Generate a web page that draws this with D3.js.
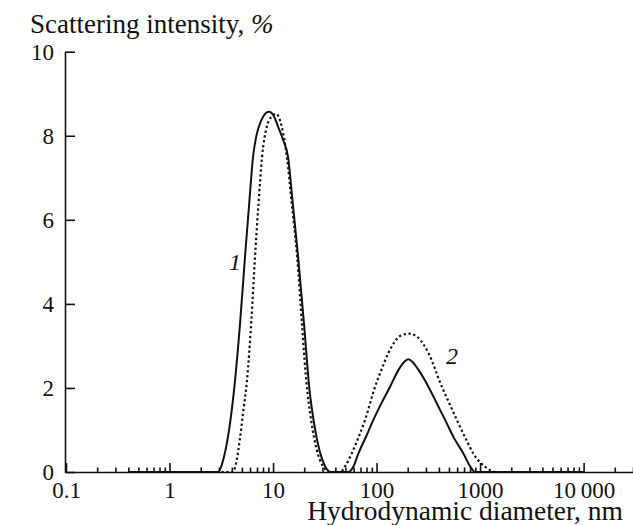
<!DOCTYPE html>
<html>
<head>
<meta charset="utf-8">
<script src="https://cdn.jsdelivr.net/npm/d3@7"></script>
<style>
	body { margin: 0; background: #fff; }
	svg { display: block; }
	text { font-family: "Liberation Serif", "Times New Roman", serif; fill: #111; }
</style>
</head>
<body>
<div id="vis"></div>
<script>
var width = 633,
	height = 525;

// curve 1 (solid): hydrodynamic diameter, nm  /  scattering intensity, %
var solidD = [0.4, 1, 2.94, 3.31, 3.76, 4.2, 4.79, 5.36, 5.89, 6.41, 6.84, 7.21, 8.05, 9.14, 10.23, 11.25, 12.59,
	13.96, 15.49, 17.46, 19.95, 22.4, 25.12, 28.18, 31.62, 36.31,
	53.5, 60.26, 66.7, 79.43, 93.1, 112.2, 135, 163, 182, 203, 223.9, 254, 317, 380.2, 459, 562.3, 690, 794.3, 895, 10000];
var solidI = [0, 0, 0, 0.3, 1.0, 1.95, 3.5, 5.12, 6.4, 7.5, 7.95, 8.18, 8.46, 8.57, 8.46, 8.2, 7.88,
	7.5, 6.4, 5.12, 3.5, 2.0, 1.1, 0.5, 0.15, 0,
	0, 0.15, 0.44, 0.85, 1.24, 1.65, 2.03, 2.43, 2.6, 2.68, 2.61, 2.43, 2.03, 1.64, 1.24, 0.8, 0.44, 0.15, 0, 0];

// curve 2 (dotted)
var dotD = [0.4, 1, 4.1, 4.47, 4.79, 5.19, 5.61, 6.17, 6.7, 7.24, 7.83, 8.67, 9.55, 10.7, 12.13,
	13.6, 15.14, 17.1, 19.05, 20.89, 23.44, 26.3, 30.2, 35.48,
	44.4, 50.12, 57.5, 67.61, 77.4, 96.8, 112.2, 130, 147.9, 169.8, 207, 251.2, 281.8, 317, 427, 501.2, 596, 724.4, 861, 1122, 1449, 10000];
var dotI = [0, 0, 0, 0.3, 0.8, 1.5, 2.19, 3.6, 5.12, 6.4, 7.5, 8.2, 8.44, 8.52, 8.22,
	7.5, 6.4, 5.12, 3.5, 2.2, 1.2, 0.55, 0.15, 0,
	0, 0.15, 0.44, 0.85, 1.24, 2.03, 2.45, 2.83, 3.08, 3.24, 3.29, 3.2, 3.05, 2.83, 2.03, 1.65, 1.24, 0.8, 0.44, 0.12, 0, 0];

var xMajor = [0.1, 1, 10, 100, 1000, 10000];
var xLabels = ["0.1", "1", "10", "100", "1000", "10\u2009000"];
var yTicks = [0, 2, 4, 6, 8, 10];

var x = d3.scaleLog()
		.domain([0.1, 30000])
		.range([66, 633]),

	y = d3.scaleLinear()
		.domain([0, 10])
		.range([472, 51.7]);

var svg = d3.select('#vis')
		.append('svg')
		.attr('width', width)
		.attr('height', height);

// minor ticks 2..9 in every decade
var xMinor = [];
xMajor.forEach(function(d) {
	for (var k = 2; k <= 9; k++) {
		if (d * k <= 30000) xMinor.push(d * k);
	}
});

svg.append('g')
	.attr('class', 'x minor')
	.attr('transform', 'translate(0,' + y(0) + ')')
	.call(d3.axisBottom(x).tickValues(xMinor).tickSizeInner(-4.5).tickSizeOuter(0).tickFormat(''))
	.call(function(g) { g.select('.domain').remove(); });

svg.append('g')
	.attr('class', 'x major')
	.attr('transform', 'translate(0,' + y(0) + ')')
	.call(d3.axisBottom(x)
		.tickValues(xMajor)
		.tickSizeInner(-9)
		.tickSizeOuter(0)
		.tickPadding(9.5)
		.tickFormat(function(d, i) { return xLabels[i]; }));

svg.append('g')
	.attr('class', 'y')
	.attr('transform', 'translate(65,0)')
	.call(d3.axisLeft(y)
		.tickValues(yTicks)
		.tickSizeInner(-10)
		.tickSizeOuter(0)
		.tickPadding(11));

svg.selectAll('.domain, .tick line')
	.style('stroke', '#111')
	.style('stroke-width', 1.6);

svg.selectAll('.tick text')
	.style('font-size', '23px');

var line = d3.line()
	.x(function(d) { return x(d[0]); })
	.y(function(d) { return y(d[1]); })
	.curve(d3.curveMonotoneX);

svg.append('path')
	.datum(d3.zip(dotD, dotI))
	.attr('d', line)
	.style('fill', 'none')
	.style('stroke', '#111')
	.style('stroke-width', 2.2)
	.style('stroke-dasharray', '2.3,2.6');

svg.append('path')
	.datum(d3.zip(solidD, solidI))
	.attr('d', line)
	.style('fill', 'none')
	.style('stroke', '#111')
	.style('stroke-width', 2);

// curve labels
svg.append('text')
	.attr('x', 235)
	.attr('y', 270)
	.attr('text-anchor', 'middle')
	.style('font-size', '24px')
	.style('font-style', 'italic')
	.text('1');

svg.append('text')
	.attr('x', 452)
	.attr('y', 364)
	.attr('text-anchor', 'middle')
	.style('font-size', '24px')
	.style('font-style', 'italic')
	.text('2');

// axis titles
svg.append('text')
	.attr('x', 30)
	.attr('y', 33)
	.style('font-size', '27px')
	.html('Scattering intensity, <tspan style="font-style:italic">%</tspan>');

svg.append('text')
	.attr('x', 623)
	.attr('y', 520)
	.attr('text-anchor', 'end')
	.style('font-size', '27.5px')
	.text('Hydrodynamic diameter, nm');
</script>
</body>
</html>
